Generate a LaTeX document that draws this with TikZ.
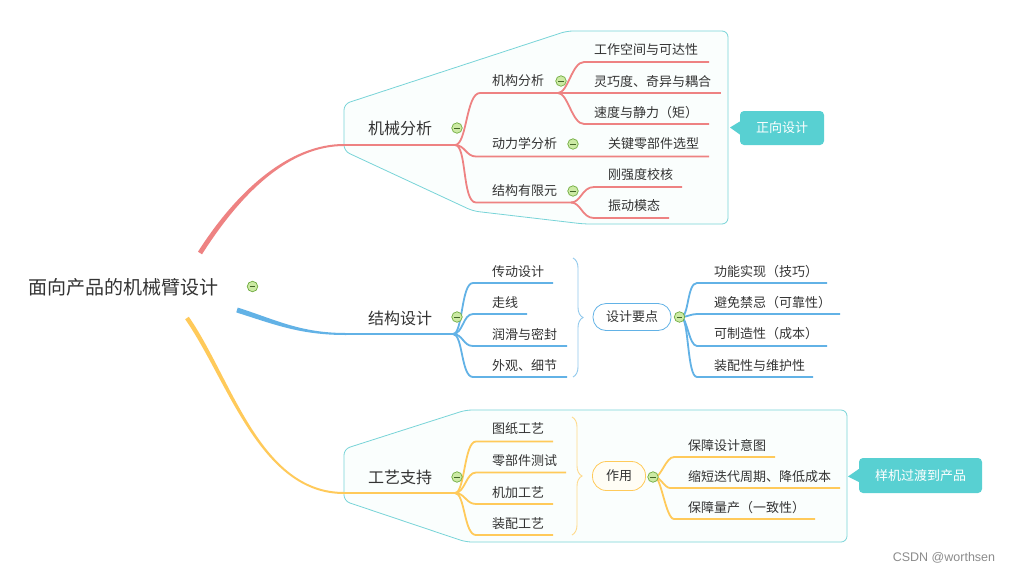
\documentclass[tikz,border=0pt]{standalone}
\usepackage{fontspec}
\setmainfont{Noto Sans CJK SC}
\newfontfamily\markfont{Liberation Sans}
\usetikzlibrary{decorations.pathreplacing}
\definecolor{ink}{RGB}{51,51,51}
\definecolor{pinkline}{RGB}{238,130,130}
\definecolor{blueline}{RGB}{98,178,230}
\definecolor{goldline}{RGB}{255,202,90}
\definecolor{frameline}{RGB}{120,212,216}
\definecolor{framefill}{RGB}{250,254,253}
\definecolor{notefill}{RGB}{88,208,210}
\definecolor{foldfill}{RGB}{204,234,164}
\definecolor{foldline}{RGB}{112,172,64}
\definecolor{usefill}{RGB}{255,253,245}

\begin{document}
\begin{tikzpicture}[x=1pt,y=-1pt,
  leaf/.style={anchor=west,inner sep=0pt,text=ink,font=\fontsize{13}{13}\selectfont},
  main/.style={inner sep=0pt,text=ink,font=\fontsize{16}{16}\selectfont},
  fold/.style={circle,draw=foldline,fill=foldfill,minimum size=10.5pt,inner sep=0pt,line width=0.7pt,
    path picture={\draw[foldline!60!black,line width=0.8pt] ([xshift=2.5pt]path picture bounding box.west) -- ([xshift=-2.5pt]path picture bounding box.east);}},
  pill/.style={rectangle,rounded corners=13pt,inner sep=0pt,line width=0.8pt,text=ink,font=\fontsize{13}{13}\selectfont},
  note/.style={rectangle,rounded corners=4pt,fill=notefill,text=white,inner sep=0pt,font=\fontsize{13}{13}\selectfont},
  frame/.style={draw=frameline,fill=framefill,line width=0.8pt,rounded corners=6pt},
  bracket/.style={decorate,decoration={brace,amplitude=10pt},line width=0.9pt},
  pk/.style={draw=pinkline,line width=1.8pt},
  bl/.style={draw=blueline,line width=1.8pt},
  gd/.style={draw=goldline,line width=1.8pt}]
  \useasboundingbox (0,0) rectangle (1012,574);
  \fill[white] (0,0) rectangle (1012,574);
  \draw[frame] (344,104) -- (567,31) -- (728,31) -- (728,224) -- (584,224) -- (473,211) -- (344,151) -- cycle;
  \draw[frame] (344,449) -- (466,410) -- (847,410) -- (847,542) -- (466,542) -- (344,501) -- cycle;

  \node[inner sep=0pt,text=ink,font=\fontsize{19}{19}\selectfont] (root) at (123,287) {面向产品的机械臂设计};

  \node[main] (m1) at (400,128) {机械分析};
  \node[leaf] (m1a) at (492,81) {机构分析};
  \node[leaf] (m1a1) at (594,50) {工作空间与可达性};
  \node[leaf] (m1a2) at (594,81.5) {灵巧度、奇异与耦合};
  \node[leaf] (m1a3) at (594,112.5) {速度与静力（矩）};
  \node[leaf] (m1b) at (492,144) {动力学分析};
  \node[leaf] (m1b1) at (608,144) {关键零部件选型};
  \node[leaf] (m1c) at (492,191) {结构有限元};
  \node[leaf] (m1c1) at (608,175) {刚强度校核};
  \node[leaf] (m1c2) at (608,206) {振动模态};
  \node[note,minimum width=84pt,minimum height=34pt] (n1) at (782,128) {正向设计};

  \node[main] (m2) at (400,318) {结构设计};
  \node[leaf] (m2a) at (492,271.5) {传动设计};
  \node[leaf] (m2b) at (492,302.5) {走线};
  \node[leaf] (m2c) at (492,334) {润滑与密封};
  \node[leaf] (m2d) at (492,365.5) {外观、细节};
  \node[pill,draw=blueline,fill=white,minimum width=78pt,minimum height=27pt] (key) at (632,317) {设计要点};
  \node[leaf] (m2k1) at (714,271.5) {功能实现（技巧）};
  \node[leaf] (m2k2) at (714,302.5) {避免禁忌（可靠性）};
  \node[leaf] (m2k3) at (714,334) {可制造性（成本）};
  \node[leaf] (m2k4) at (714,365.5) {装配性与维护性};

  \node[main] (m3) at (400,477) {工艺支持};
  \node[leaf] (m3a) at (492,429) {图纸工艺};
  \node[leaf] (m3b) at (492,461) {零部件测试};
  \node[leaf] (m3c) at (492,492.5) {机加工艺};
  \node[leaf] (m3d) at (492,523.5) {装配工艺};
  \node[pill,draw=goldline,fill=usefill,rounded corners=14pt,minimum width=53pt,minimum height=29pt] (use) at (619,476) {作用};
  \node[leaf] (m3u1) at (688,445.5) {保障设计意图};
  \node[leaf] (m3u2) at (688,476.5) {缩短迭代周期、降低成本};
  \node[leaf] (m3u3) at (688,508) {保障量产（一致性）};
  \node[note,minimum width=123pt,minimum height=35pt] (n2) at (920.5,475.5) {样机过渡到产品};

  \node[inner sep=0pt,text=black!45,font=\markfont\fontsize{12.5}{12.5}\selectfont] (mark) at (944,558) {CSDN @worthsen};

  \coordinate (r1a) at (198,251.7);
  \coordinate (r1b) at (202,254.3);
  \coordinate (m1s) at (344,145);
  \coordinate (m1e) at (455,145);
  \coordinate (m1as) at (480,93);
  \coordinate (m1ae) at (558,93);
  \coordinate (m1a1s) at (584,62);
  \coordinate (m1a1e) at (709,62);
  \coordinate (m1a2e) at (721,93);
  \coordinate (m1a3s) at (584,124);
  \coordinate (m1a3e) at (709,124);
  \coordinate (m1bs) at (476,156.5);
  \coordinate (m1be) at (571,156.5);
  \coordinate (m1b1e) at (709,156.5);
  \coordinate (m1cs) at (476,202.5);
  \coordinate (m1ce) at (571,202.5);
  \coordinate (m1c1s) at (594,187);
  \coordinate (m1c1e) at (682,187);
  \coordinate (m1c2s) at (594,218);
  \coordinate (m1c2e) at (669,218);
  \coordinate (n1t) at (730,127.5);
  \fill[pinkline] (r1a) .. controls (238,189) and (290,144) .. ([yshift=1pt]m1s) -- ([yshift=-1pt]m1s) .. controls (290,146) and (242,191.5) .. (r1b) -- cycle;
  \draw[pk,line width=2pt] (m1s) -- (m1e);
  \draw[pk] (m1e) .. controls +(12,0) and +(-14,0) .. (m1as) -- (m1ae);
  \draw[pk] (m1e) .. controls +(10,0) and +(-10,0) .. (m1bs) -- (m1be) -- (m1b1e);
  \draw[pk] (m1e) .. controls +(12,0) and +(-14,0) .. (m1cs) -- (m1ce);
  \draw[pk] (m1ae) .. controls +(10,0) and +(-12,0) .. (m1a1s) -- (m1a1e);
  \draw[pk] (m1ae) -- (m1a2e);
  \draw[pk] (m1ae) .. controls +(10,0) and +(-12,0) .. (m1a3s) -- (m1a3e);
  \draw[pk] (m1ce) .. controls +(10,0) and +(-12,0) .. (m1c1s) -- (m1c1e);
  \draw[pk] (m1ce) .. controls +(10,0) and +(-12,0) .. (m1c2s) -- (m1c2e);
  \fill[notefill] (n1t) -- ([yshift=6.5pt]n1.west) -- ([yshift=-6.5pt]n1.west) -- cycle;

  \coordinate (r2a) at (237.75,307.6);
  \coordinate (r2b) at (236.25,312.4);
  \coordinate (m2s) at (346,334);
  \coordinate (m2e) at (453,334);
  \coordinate (m2as) at (473,283);
  \coordinate (m2ae) at (553,283);
  \coordinate (m2bs) at (473,314);
  \coordinate (m2be) at (527,314);
  \coordinate (m2cs) at (473,346);
  \coordinate (m2ce) at (567,346);
  \coordinate (m2ds) at (473,377);
  \coordinate (m2de) at (567,377);
  \coordinate (br1t) at (573,258);
  \coordinate (br1b) at (573,377);
  \coordinate (kb) at (681,317);
  \coordinate (m2k1s) at (697,283);
  \coordinate (m2k1e) at (827,283);
  \coordinate (m2k2s) at (697,314);
  \coordinate (m2k2e) at (840,314);
  \coordinate (m2k3s) at (697,346);
  \coordinate (m2k3e) at (827,346);
  \coordinate (m2k4s) at (697,377);
  \coordinate (m2k4e) at (813,377);
  \fill[blueline] (r2a) .. controls (275.7,319.6) and (300,333) .. ([yshift=1pt]m2s) -- ([yshift=-1pt]m2s) .. controls (300,335) and (274.3,324.4) .. (r2b) -- cycle;
  \draw[bl,line width=2pt] (m2s) -- (m2e);
  \draw[bl] (m2e) .. controls +(10,0) and +(-12,0) .. (m2as) -- (m2ae);
  \draw[bl] (m2e) .. controls +(10,0) and +(-10,0) .. (m2bs) -- (m2be);
  \draw[bl] (m2e) .. controls +(10,0) and +(-10,0) .. (m2cs) -- (m2ce);
  \draw[bl] (m2e) .. controls +(10,0) and +(-12,0) .. (m2ds) -- (m2de);
  \draw[bracket,blueline!70] (br1t) -- (br1b);
  \draw[bl] (kb) .. controls +(8,0) and +(-10,0) .. (m2k1s) -- (m2k1e);
  \draw[bl] (kb) .. controls +(6,0) and +(-6,0) .. (m2k2s) -- (m2k2e);
  \draw[bl] (kb) .. controls +(6,0) and +(-8,0) .. (m2k3s) -- (m2k3e);
  \draw[bl] (kb) .. controls +(8,0) and +(-10,0) .. (m2k4s) -- (m2k4e);

  \coordinate (r3a) at (188.8,316.75);
  \coordinate (r3b) at (185.2,319.25);
  \coordinate (m3s) at (344,493);
  \coordinate (m3e) at (455,493);
  \coordinate (m3as) at (476,441.5);
  \coordinate (m3ae) at (553,441.5);
  \coordinate (m3bs) at (476,472.5);
  \coordinate (m3be) at (566,472.5);
  \coordinate (m3cs) at (476,504);
  \coordinate (m3ce) at (553,504);
  \coordinate (m3ds) at (476,535);
  \coordinate (m3de) at (553,535);
  \coordinate (br2t) at (572,417);
  \coordinate (br2b) at (572,535);
  \coordinate (ub) at (655,477);
  \coordinate (m3u1s) at (674,457);
  \coordinate (m3u1e) at (775,457);
  \coordinate (m3u2s) at (670,488);
  \coordinate (m3u2e) at (840,488);
  \coordinate (m3u3s) at (674,519);
  \coordinate (m3u3e) at (815,519);
  \coordinate (n2t) at (848,476.5);
  \fill[goldline] (r3a) .. controls (231.8,378.75) and (260,492) .. ([yshift=1pt]m3s) -- ([yshift=-1pt]m3s) .. controls (260,494) and (228.2,381.25) .. (r3b) -- cycle;
  \draw[gd,line width=2pt] (m3s) -- (m3e);
  \draw[gd] (m3e) .. controls +(10,0) and +(-12,0) .. (m3as) -- (m3ae);
  \draw[gd] (m3e) .. controls +(10,0) and +(-10,0) .. (m3bs) -- (m3be);
  \draw[gd] (m3e) .. controls +(10,0) and +(-10,0) .. (m3cs) -- (m3ce);
  \draw[gd] (m3e) .. controls +(10,0) and +(-12,0) .. (m3ds) -- (m3de);
  \draw[bracket,goldline!70] (br2t) -- (br2b);
  \draw[gd] (ub) .. controls +(6,0) and +(-8,0) .. (m3u1s) -- (m3u1e);
  \draw[gd] (ub) .. controls +(5,0) and +(-5,0) .. (m3u2s) -- (m3u2e);
  \draw[gd] (ub) .. controls +(6,0) and +(-8,0) .. (m3u3s) -- (m3u3e);
  \fill[notefill] (n2t) -- ([yshift=6.5pt]n2.west) -- ([yshift=-6.5pt]n2.west) -- cycle;

  \node[fold] (f0) at (252.5,286.5) {};
  \node[fold] (f1) at (457,128) {};
  \node[fold] (f1a) at (561,81) {};
  \node[fold] (f1b) at (573,144) {};
  \node[fold] (f1c) at (573,191) {};
  \node[fold] (f2) at (457,317) {};
  \node[fold] (fk) at (679.5,317) {};
  \node[fold] (f3) at (457,477) {};
  \node[fold] (fu) at (653,477) {};
\end{tikzpicture}
\end{document}
